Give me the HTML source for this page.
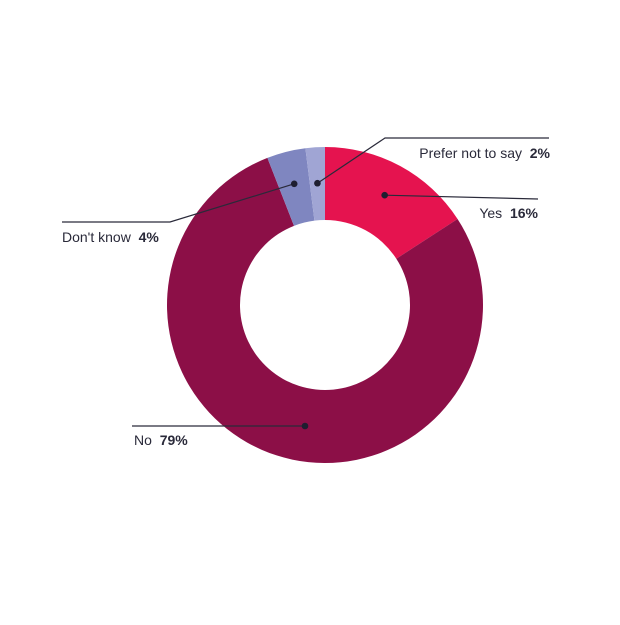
<!DOCTYPE html>
<html><head><meta charset="utf-8"><style>
html,body{margin:0;padding:0;background:#fff;}
svg text{font-family:"Liberation Sans",sans-serif;font-size:14px;fill:#2a2a3a;}
</style></head><body>
<svg width="620" height="620" viewBox="0 0 620 620">
<g id="slices"></g>
<g id="labels"></g>
</svg>
<script>
const categories = ["Yes", "No", "Don't know", "Prefer not to say"];
const values = [16, 79, 4, 2];
const valueLabels = ["16%", "79%", "4%", "2%"];
const colors = ["#E5134F", "#8C0F47", "#7F86C0", "#A0A5D4"];
const cx = 325, cy = 305, R = 158, r = 85;
const NS = "http://www.w3.org/2000/svg";
const total = values.reduce((a,b)=>a+b,0);
function pt(angle, rad){ return [cx + rad*Math.sin(angle), cy - rad*Math.cos(angle)]; }
const sg = document.getElementById("slices");
let a0 = 0;
const mids = [];
values.forEach((v,i)=>{
  const a1 = a0 + v/total*2*Math.PI;
  const large = (a1-a0) > Math.PI ? 1 : 0;
  const [x0,y0]=pt(a0,R),[x1,y1]=pt(a1,R),[x2,y2]=pt(a1,r),[x3,y3]=pt(a0,r);
  const p = document.createElementNS(NS,"path");
  p.setAttribute("d",`M${x0},${y0} A${R},${R} 0 ${large} 1 ${x1},${y1} L${x2},${y2} A${r},${r} 0 ${large} 0 ${x3},${y3} Z`);
  p.setAttribute("fill",colors[i]);
  
  
  sg.appendChild(p);
  mids.push((a0+a1)/2);
  a0 = a1;
});
// label layout: [dot radius, line points after dot, text x, text y, anchor]
const lg = document.getElementById("labels");
const layouts = [
  {rad:125, pts:[[538,199]], tx:538, ty:218, anchor:"end"},
  {rad:null, dot:[305,426], pts:[[132,426]], tx:134, ty:445, anchor:"start"},
  {rad:125, pts:[[170,222],[62,222]], tx:62, ty:242, anchor:"start"},
  {rad:122, pts:[[385,138],[549,138]], tx:550, ty:158, anchor:"end"}
];
layouts.forEach((L,i)=>{
  const d = L.dot || pt(mids[i], L.rad);
  const pl = document.createElementNS(NS,"polyline");
  pl.setAttribute("points",[d].concat(L.pts).map(p=>p.join(",")).join(" "));
  pl.setAttribute("fill","none");pl.setAttribute("stroke","#2a2a3a");pl.setAttribute("stroke-width","1.2");
  
  
  lg.appendChild(pl);
  const c = document.createElementNS(NS,"circle");
  c.setAttribute("cx",d[0]);c.setAttribute("cy",d[1]);c.setAttribute("r","3.3");c.setAttribute("fill","#1e1e30");
  
  
  lg.appendChild(c);
  const t = document.createElementNS(NS,"text");
  t.setAttribute("x",L.tx);t.setAttribute("y",L.ty);t.setAttribute("text-anchor",L.anchor);
  
  
  const s1 = document.createElementNS(NS,"tspan"); s1.textContent = categories[i] + "\u00a0 ";
  const s2 = document.createElementNS(NS,"tspan"); s2.textContent = valueLabels[i]; s2.setAttribute("font-weight","bold");
  t.appendChild(s1); t.appendChild(s2);
  lg.appendChild(t);
});
</script>
</body></html>
